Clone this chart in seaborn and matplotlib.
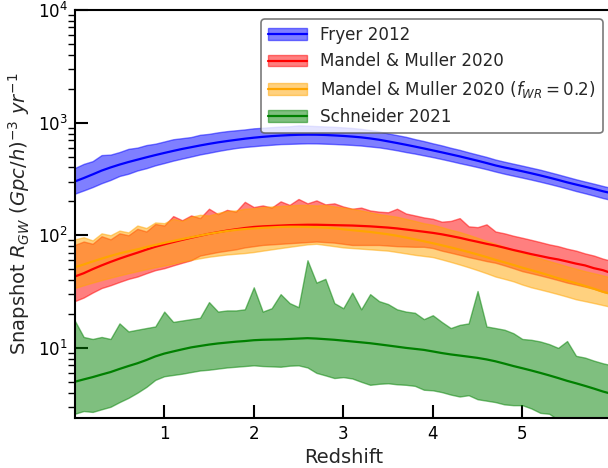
import numpy as np
import pandas as pd
import matplotlib
matplotlib.use("Agg")
import matplotlib.pyplot as plt
from matplotlib.lines import Line2D
from matplotlib.ticker import LogLocator, NullLocator
import seaborn as sns

# Snapshot redshifts
redshift = [0.0, 0.1, 0.2, 0.3, 0.4, 0.5, 0.6, 0.7, 0.8, 0.9,
            1.0, 1.1, 1.2, 1.3, 1.4, 1.5, 1.6, 1.7, 1.8, 1.9,
            2.0, 2.1, 2.2, 2.3, 2.4, 2.5, 2.6, 2.7, 2.8, 2.9,
            3.0, 3.1, 3.2, 3.3, 3.4, 3.5, 3.6, 3.7, 3.8, 3.9,
            4.0, 4.1, 4.2, 4.3, 4.4, 4.5, 4.6, 4.7, 4.8, 4.9,
            5.0, 5.1, 5.2, 5.3, 5.4, 5.5, 5.6, 5.7, 5.8, 5.9,
            6.0]

# Fryer 2012: median and spread of the snapshot rate
fryer_med = [300, 322, 347, 375, 400, 424, 447, 469, 492, 515,
             538, 561, 584, 605, 627, 648, 668, 686, 703, 720,
             735, 748, 759, 768, 775, 780, 782, 781, 777, 770,
             762, 752, 740, 724, 705, 682, 659, 636, 613, 590,
             567, 545, 523, 502, 480, 459, 438, 417, 400, 385,
             370, 355, 340, 325, 310, 295, 282, 270, 258, 246,
             236]
fryer_hi = [395, 430, 455, 515, 520, 548, 585, 600, 632, 650,
            680, 712, 728, 745, 780, 795, 820, 840, 855, 870,
            890, 900, 912, 922, 928, 945, 940, 932, 925, 918,
            908, 896, 880, 858, 835, 802, 775, 748, 714, 686,
            655, 628, 598, 573, 545, 520, 496, 470, 450, 432,
            415, 398, 382, 364, 347, 330, 314, 300, 287, 274,
            262]
fryer_lo = [234, 250, 268, 290, 310, 336, 352, 376, 394, 418,
            438, 460, 480, 500, 522, 540, 560, 578, 595, 608,
            618, 628, 636, 645, 648, 652, 655, 654, 650, 646,
            640, 634, 626, 614, 603, 586, 568, 548, 531, 512,
            494, 475, 456, 437, 420, 403, 386, 368, 352, 338,
            325, 312, 299, 286, 273, 260, 247, 236, 225, 214,
            205]

# Mandel & Muller 2020
mm_med = [43, 46, 50, 54, 58, 62, 66, 70, 74.5, 79,
          83, 87, 91, 95, 99, 103, 106.5, 110, 113, 116,
          118.5, 120, 121, 122, 123, 123.5, 124, 124, 123.5, 123,
          122.5, 122, 121, 120, 118.5, 117, 115, 112.5, 110, 107.5,
          105, 102, 98.5, 95, 91, 87.5, 84, 81, 77.5, 74,
          71, 68, 65.5, 63, 61, 58.5, 56, 54, 51, 49,
          46]
mm_hi = [82, 88, 84, 98, 92, 104, 100, 114, 108, 126,
         122, 148, 136, 150, 142, 172, 154, 168, 162, 198,
         178, 184, 176, 200, 186, 210, 192, 204, 188, 192,
         180, 172, 176, 166, 162, 160, 172, 156, 150, 144,
         140, 132, 134, 142, 120, 118, 125, 108, 104, 99,
         95, 91, 87, 83, 80, 76, 73, 69, 66, 62,
         59]
mm_lo = [26, 28, 31, 34, 36, 38.5, 41, 43, 46, 49,
         51, 54, 57, 60, 66, 68.5, 71, 73, 75, 78,
         80, 82, 83, 84, 85, 86, 87, 88, 87, 86,
         84, 82, 82, 82, 82, 81, 80, 79.5, 79, 79,
         77, 73, 70, 67, 64, 61.5, 59, 57, 54, 51,
         48, 46, 44, 42, 40, 38, 36.5, 35, 33.5, 31.5,
         30]

# Mandel & Muller 2020 with f_WR = 0.2
mmwr_med = [52, 55, 58.5, 62, 65.5, 69, 72, 75, 78.5, 82,
            85.5, 89, 92.5, 96, 99.5, 103, 106, 109, 111.5, 113.5,
            115, 116.5, 117.5, 118.5, 119, 119, 118.5, 118, 117, 115.5,
            113, 111, 109, 107, 104.5, 102, 99, 95.5, 92, 88.5,
            85, 81.5, 78, 74.5, 71, 67.5, 64, 60.5, 57.5, 54.5,
            51.5, 49, 46.5, 44, 41.5, 39.5, 37.5, 35.5, 33.5, 31.5,
            30]
mmwr_hi = [92, 96, 90, 104, 100, 110, 106, 122, 116, 130,
           128, 140, 134, 146, 152, 150, 158, 164, 166, 172,
           174, 178, 180, 182, 184, 186, 186, 184, 186, 180,
           176, 172, 166, 160, 154, 150, 146, 140, 134, 128,
           124, 118, 112, 107, 101, 95, 89, 84, 79, 74,
           70, 66, 62.5, 59, 56, 53, 50.5, 48, 46, 44,
           42]
mmwr_lo = [34, 36, 38, 40, 42, 44, 46, 48, 50, 52,
           54, 56, 58.5, 60.5, 62.5, 64.5, 66, 67.5, 68.5, 69.5,
           71, 73, 75, 77, 79, 81, 83, 84, 82, 80,
           78, 77, 76, 75, 74, 73, 71, 69, 67, 65.5,
           64, 61, 58, 55, 52, 49, 46, 43, 41, 39,
           36.5, 34.5, 33, 31.5, 30, 28.5, 27, 26, 25, 24,
           23]

# Schneider 2021
sch_med = [5.0, 5.25, 5.5, 5.8, 6.1, 6.5, 6.9, 7.3, 7.8, 8.4,
           8.9, 9.3, 9.7, 10.1, 10.4, 10.7, 10.95, 11.15, 11.35, 11.5,
           11.7, 11.8, 11.85, 11.9, 12.0, 12.1, 12.2, 12.1, 11.95, 11.8,
           11.6, 11.4, 11.2, 11.0, 10.75, 10.5, 10.25, 10.0, 9.8, 9.6,
           9.3, 9.0, 8.75, 8.55, 8.35, 8.15, 7.9, 7.6, 7.25, 6.9,
           6.6, 6.3, 6.0, 5.7, 5.4, 5.1, 4.85, 4.6, 4.35, 4.1,
           3.9]
sch_hi = [17.5, 12.5, 12, 12.5, 12, 16.5, 14, 14.5, 15, 15.5,
          21, 17, 17.5, 18, 18.5, 25.5, 21, 21.5, 21.5, 22,
          34.5, 21, 22.5, 30, 25, 23, 60, 38, 41, 25,
          22.5, 31, 22, 30, 26, 24.5, 22, 21, 20.5, 18,
          19.5, 17, 15, 16, 16.5, 32, 15.5, 15, 14.5, 13.5,
          12, 11.8, 11.4, 10.8, 10, 11.5, 8.5, 8.2, 7.7, 7.3,
          7.0]
sch_lo = [2.6, 2.75, 2.7, 2.85, 3.0, 3.3, 3.6, 4.0, 4.5, 5.2,
          5.6, 5.75, 5.9, 6.1, 6.3, 6.4, 6.55, 6.7, 6.8, 6.9,
          7.0, 6.9, 6.85, 6.8, 6.95, 7.0, 6.7, 6.0, 5.7, 5.4,
          5.5, 5.35, 5.0, 4.7, 4.8, 4.85, 4.75, 4.7, 4.6, 4.25,
          4.2, 4.05, 3.85, 3.7, 3.8, 3.5, 3.4, 3.3, 3.15, 3.1,
          3.1, 2.9, 2.65, 2.6, 2.3, 2.2, 2.1, 2.0, 1.9, 1.8,
          1.7]

labels = ["Fryer 2012",
          "Mandel & Muller 2020",
          r"Mandel & Muller 2020 ($f_{WR} = 0.2$)",
          "Schneider 2021"]
colors = ["blue", "red", "orange", "green"]
medians = [fryer_med, mm_med, mmwr_med, sch_med]
uppers = [fryer_hi, mm_hi, mmwr_hi, sch_hi]
lowers = [fryer_lo, mm_lo, mmwr_lo, sch_lo]

df = pd.concat(
    [pd.DataFrame({"redshift": redshift, "rate": m, "model": lab})
     for lab, m in zip(labels, medians)],
    ignore_index=True,
)

sns.set_style("white")
plt.rcParams["font.family"] = ["DejaVu Sans"]

fig = plt.figure(figsize=(6.08, 4.68), dpi=100)
ax = fig.add_axes([0.1229, 0.1075, 0.8834, 0.8711])

bands = []
for lab, c, lo, hi in zip(labels, colors, lowers, uppers):
    bands.append(ax.fill_between(redshift, lo, hi, color=c, alpha=0.5))

sns.lineplot(data=df, x="redshift", y="rate", hue="model", hue_order=labels,
             palette=dict(zip(labels, colors)), linewidth=1.6, legend=False,
             ax=ax)

ax.set_yscale("log")
ax.set_xlim(0, 6)
ax.set_ylim(2.4, 1e4)
ax.set_xticks([1, 2, 3, 4, 5])
ax.xaxis.set_minor_locator(NullLocator())
ax.yaxis.set_major_locator(LogLocator(base=10, numticks=10))
ax.yaxis.set_minor_locator(LogLocator(base=10, subs=np.arange(2, 10), numticks=20))

ax.tick_params(axis="both", which="major", direction="in", length=9.5,
               width=1.5, labelsize=12, pad=5, colors="black",
               left=True, bottom=True)
ax.tick_params(axis="y", which="minor", direction="out", length=5, width=1,
               left=True, colors="black")
for side in ["left", "bottom", "top"]:
    ax.spines[side].set_linewidth(1.5)
    ax.spines[side].set_color("black")
ax.spines["right"].set_visible(False)

ax.set_xlabel("Redshift", fontsize=14)
ax.set_ylabel(r"Snapshot $R_{GW}$ $(Gpc/h)^{-3}$ $yr^{-1}$", fontsize=14)

handles = [(b, Line2D([], [], color=c, linewidth=1.6)) for b, c in zip(bands, colors)]
leg = ax.legend(handles, labels, loc="upper right", fontsize=12.1,
                handlelength=2.3, frameon=True, fancybox=True,
                borderaxespad=0.55)
leg.get_frame().set_edgecolor("0.35")
leg.get_frame().set_linewidth(1.2)

fig.savefig("out.png", dpi=100)
